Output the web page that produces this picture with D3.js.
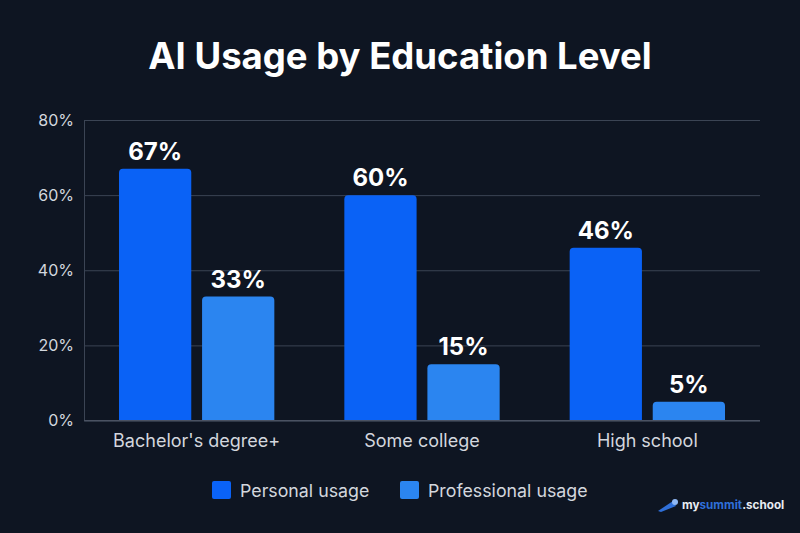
<!DOCTYPE html>
<html>
<head>
<meta charset="utf-8">
<script src="https://cdn.jsdelivr.net/npm/d3@7"></script>
<style>
  html, body { margin: 0; padding: 0; background: #0e1522; }
  svg { display: block; font-family: Inter, "Noto Sans", sans-serif; }
</style>
</head>
<body>
<div id="chart"></div>
<script>
var categories = ["Bachelor's degree+", "Some college", "High school"];
var seriesNames = ["Personal usage", "Professional usage"];
var personal = [67, 60, 46];
var professional = [33, 15, 5];
var yTicks = [0, 20, 40, 60, 80];

function init() {
    var w = 800, h = 533;
    var margin = { top: 120, right: 40, bottom: 112.5, left: 84 };
    var colors = ["#0a62f6", "#2b85f0"];

    var data = categories.map((c, i) => ({ cat: c, values: [personal[i], professional[i]] }));

    var svg = d3.select("#chart").append("svg")
        .attr("width", w)
        .attr("height", h)
        .attr("viewBox", [0, 0, w, h]);

    svg.append("rect").attr("width", w).attr("height", h).attr("fill", "#0e1522");

    svg.append("text")
        .attr("x", w / 2)
        .attr("y", 68.5)
        .attr("text-anchor", "middle")
        .attr("fill", "#ffffff")
        .attr("font-size", 36.5)
        .attr("font-weight", 700)
        .text("AI Usage by Education Level");

    var x0 = d3.scaleBand().domain(categories).range([margin.left, w - margin.right]).paddingInner(0).paddingOuter(0);
    var x1 = d3.scaleBand().domain([0, 1]).range([35, x0.bandwidth() - 35]).paddingInner(0.13);
    var y = d3.scaleLinear().domain([0, 80]).range([h - margin.bottom, margin.top]);

    // grid
    var yAxis = svg.append("g")
        .attr("transform", `translate(${margin.left},0)`)
        .call(d3.axisLeft(y).tickValues(yTicks).tickFormat(d => d + "%").tickSize(-(w - margin.left - margin.right)).tickPadding(10));
    yAxis.select(".domain").attr("stroke", "#3b4454");
    yAxis.selectAll(".tick line").attr("stroke", "#3b4454").attr("stroke-width", 1);
    yAxis.selectAll(".tick text").attr("fill", "#d3d7de").attr("font-size", 16).attr("font-family", "Inter, sans-serif");

    var groups = svg.selectAll(".grp")
        .data(data)
        .enter().append("g")
        .attr("class", "grp")
        .attr("transform", d => `translate(${x0(d.cat)},0)`);

    var r = 4;
    groups.selectAll("path")
        .data(d => d.values.map((v, i) => ({ v: v, i: i })))
        .enter().append("path")
        .attr("fill", d => colors[d.i])
        .attr("d", d => {
            var bx = x1(d.i), bw = x1.bandwidth(), by = y(d.v), bb = y(0);
            return `M${bx},${bb}V${by + r}Q${bx},${by} ${bx + r},${by}H${bx + bw - r}Q${bx + bw},${by} ${bx + bw},${by + r}V${bb}Z`;
        });

    groups.selectAll(".val")
        .data(d => d.values.map((v, i) => ({ v: v, i: i })))
        .enter().append("text")
        .attr("class", "val")
        .attr("x", d => x1(d.i) + x1.bandwidth() / 2)
        .attr("y", d => y(d.v) - 9)
        .attr("text-anchor", "middle")
        .attr("fill", "#ffffff")
        .attr("font-size", 24)
        .attr("font-weight", 700)
        .text(d => d.v + "%");

    // x axis labels
    svg.append("line")
        .attr("x1", margin.left).attr("x2", w - margin.right)
        .attr("y1", y(0)).attr("y2", y(0))
        .attr("stroke", "#4a5262");
    svg.selectAll(".xlab")
        .data(categories)
        .enter().append("text")
        .attr("x", d => x0(d) + x0.bandwidth() / 2)
        .attr("y", 446.5)
        .attr("text-anchor", "middle")
        .attr("fill", "#d3d7de")
        .attr("font-size", 18)
        .text(d => d);

    // legend
    var legendX = [212, 400];
    var legend = svg.selectAll(".leg")
        .data(seriesNames)
        .enter().append("g")
        .attr("transform", (d, i) => `translate(${legendX[i]},481)`);
    legend.append("rect")
        .attr("width", 19).attr("height", 18).attr("rx", 2)
        .attr("fill", (d, i) => colors[i]);
    legend.append("text")
        .attr("x", 28).attr("y", 15.7)
        .attr("fill", "#d3d7de")
        .attr("font-size", 17.8)
        .text(d => d);

    // brand mark
    var brand = svg.append("g").attr("transform", "translate(658,497)");
    brand.append("path")
        .attr("d", "M0,14 L15,4 L18,9 L3,15 Z")
        .attr("fill", "#2f6fd8");
    brand.append("circle").attr("cx", 17).attr("cy", 5).attr("r", 3).attr("fill", "#8fb8f5");
    var bt = brand.append("text")
        .attr("x", 24).attr("y", 11.5)
        .attr("font-size", 11.7)
        .attr("font-weight", 700)
        .attr("fill", "#e8ecf2");
    bt.append("tspan").text("my");
    bt.append("tspan").attr("fill", "#2f6fd8").text("summit");
    bt.append("tspan").text(".school");
}

window.onload = init;
</script>
</body>
</html>
